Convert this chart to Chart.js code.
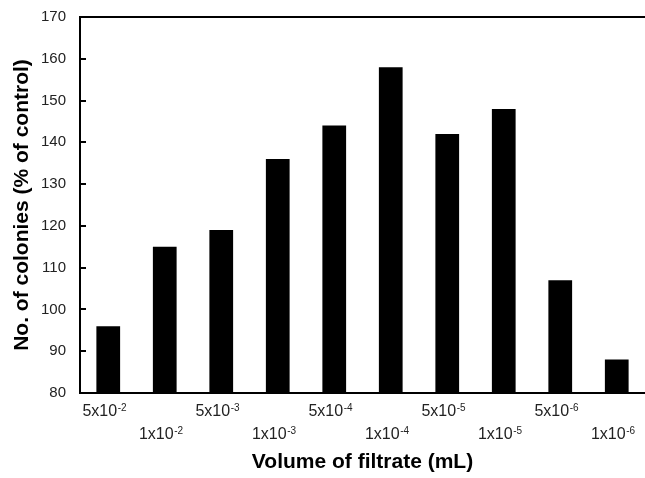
<!DOCTYPE html>
<html>
<head>
<meta charset="utf-8">
<script src="https://cdn.jsdelivr.net/npm/chart.js@4"></script>
<style>
  html, body { margin: 0; padding: 0; background: #fff; }
  #wrap { width: 645px; height: 478px; }
</style>
</head>
<body>
<div id="wrap"><canvas id="colonies-chart" width="645" height="478"></canvas></div>
<script>
// Volume of filtrate (mL), written as mantissa^exponent
const volumeLabels = [
  '5x10^-2', '1x10^-2', '5x10^-3', '1x10^-3', '5x10^-4',
  '1x10^-4', '5x10^-5', '1x10^-5', '5x10^-6', '1x10^-6'
];
// No. of colonies (% of control)
const colonyValues = [96, 115, 119, 136, 144, 158, 142, 148, 107, 88];
const yTicks = [80, 90, 100, 110, 120, 130, 140, 150, 160, 170];

const fontFamily = '"Liberation Sans", Arial, sans-serif';

// Inner tick marks on the y axis and two-row x labels with superscripts
const axisDecor = {
  id: 'axisDecor',
  afterDraw(chart) {
    const ctx = chart.ctx;
    const xs = chart.scales.x;
    const ys = chart.scales.y;
    const area = chart.chartArea;
    ctx.save();
    ctx.strokeStyle = '#000';
    ctx.lineWidth = 2;
    yTicks.forEach(v => {
      const y = Math.round(ys.getPixelForValue(v));
      ctx.beginPath();
      ctx.moveTo(area.left, y);
      ctx.lineTo(area.left + 6, y);
      ctx.stroke();
    });

    ctx.fillStyle = '#222';
    ctx.textBaseline = 'alphabetic';
    ctx.textAlign = 'left';
    volumeLabels.forEach((lab, i) => {
      const [base, exp] = lab.split('^');
      ctx.font = '16px ' + fontFamily;
      const wb = ctx.measureText(base).width;
      ctx.font = '10px ' + fontFamily;
      const we = ctx.measureText(exp).width;
      const cx = xs.getPixelForValue(i) - 4;
      const x0 = cx - (wb + we) / 2;
      const baseline = xs.top + (i % 2 === 0 ? 23 : 46);
      ctx.font = '16px ' + fontFamily;
      ctx.fillText(base, x0, baseline);
      ctx.font = '10px ' + fontFamily;
      ctx.fillText(exp, x0 + wb + 0.5, baseline - 5);
    });
    ctx.restore();
  }
};

const coloniesChart = document.getElementById('colonies-chart');
new Chart(coloniesChart, {
  type: 'bar',
  data: {
    labels: volumeLabels,
    datasets: [
      {
        label: 'No. of colonies (% of control)',
        data: colonyValues,
        backgroundColor: '#000',
        borderWidth: 0,
        categoryPercentage: 1,
        barPercentage: 0.42
      }
    ]
  },
  options: {
    responsive: false,
    animation: false,
    layout: { padding: 0 },
    plugins: {
      legend: { display: false },
      tooltip: { enabled: false }
    },
    scales: {
      x: {
        position: 'bottom',
        grid: { display: false, drawTicks: false },
        border: { display: true, color: '#000', width: 2 },
        ticks: { display: false },
        title: {
          display: true,
          text: 'Volume of filtrate (mL)',
          color: '#000',
          padding: { top: 2, bottom: 3 },
          font: { family: fontFamily, size: 21, weight: 'bold' }
        },
        afterFit(scale) { scale.height = 85; }
      },
      xTop: {
        position: 'top',
        grid: { display: false, drawTicks: false },
        border: { display: true, color: '#000', width: 2 },
        ticks: { display: false },
        afterFit(scale) { scale.height = 17; }
      },
      y: {
        min: 80,
        max: 170,
        afterBuildTicks(scale) { scale.ticks = yTicks.map(v => ({ value: v })); },
        grid: {
          display: true,
          drawOnChartArea: false,
          drawTicks: true,
          tickLength: 12,
          tickColor: 'rgba(0,0,0,0)'
        },
        border: { display: true, color: '#000', width: 2 },
        ticks: {
          color: '#222',
          padding: 2,
          font: { family: fontFamily, size: 15 }
        },
        title: {
          display: true,
          text: 'No. of colonies (% of control)',
          color: '#000',
          padding: { top: 10, bottom: 0 },
          font: { family: fontFamily, size: 21, weight: 'bold' }
        },
        afterFit(scale) { scale.width = 80; }
      }
    }
  },
  plugins: [axisDecor]
});
</script>
</body>
</html>
